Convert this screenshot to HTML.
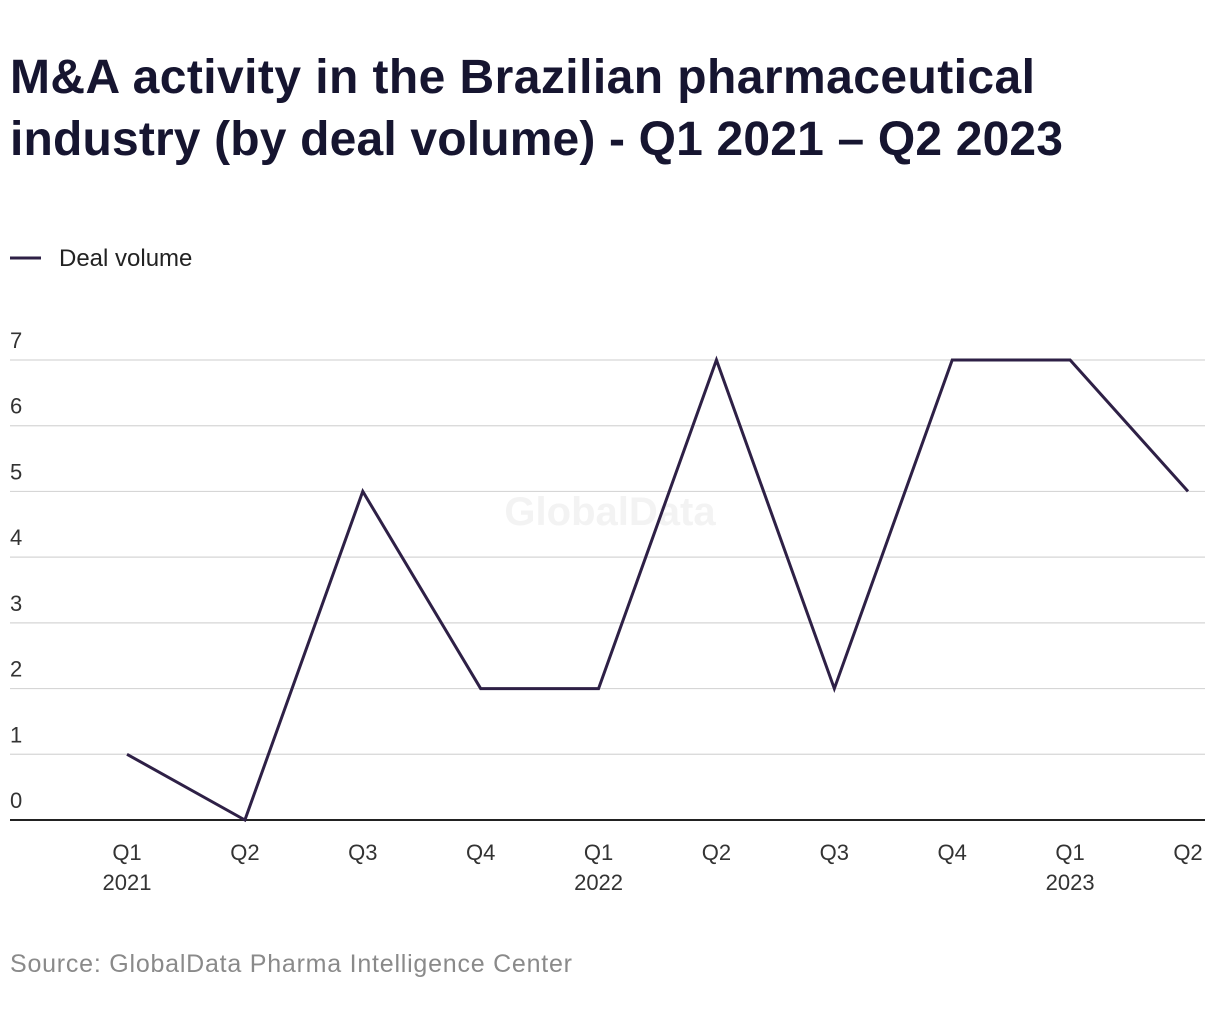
<!DOCTYPE html>
<html><head><meta charset="utf-8"><style>
body{margin:0;background:#fff;width:1220px;height:1020px;overflow:hidden;font-family:"Liberation Sans",sans-serif;}
</style></head><body>
<svg width="1220" height="1020" xmlns="http://www.w3.org/2000/svg">
<text x="10" y="93" font-size="48" font-weight="bold" fill="#161530" textLength="1025">M&amp;A activity in the Brazilian pharmaceutical</text>
<text x="10" y="155" font-size="48" font-weight="bold" fill="#161530" textLength="1053">industry (by deal volume) - Q1 2021 – Q2 2023</text>
<line x1="10" y1="258" x2="41" y2="258" stroke="#2e2046" stroke-width="3"/>
<text x="59" y="266" font-size="24" fill="#222">Deal volume</text>
<text x="610" y="525" font-size="40" font-weight="bold" fill="#f3f3f3" text-anchor="middle">GlobalData</text>
<g id="grid"></g><g id="xl"></g>
<path id="line" fill="none" stroke="#2e2046" stroke-width="3" stroke-linejoin="miter"/>
<text x="10" y="972" font-size="25" fill="#8a8a8a" textLength="562">Source: GlobalData Pharma Intelligence Center</text>
</svg>
<script>
const categories=["Q1","Q2","Q3","Q4","Q1","Q2","Q3","Q4","Q1","Q2"];
const years=["2021","","","","2022","","","","2023",""];
const values=[1,0,5,2,2,7,2,7,7,5];
const yTicks=[0,1,2,3,4,5,6,7];
const NS="http://www.w3.org/2000/svg";
const x=i=>127+i*(1188-127)/9;
const y=v=>820-v*(460/7);
const g=document.getElementById('grid');
yTicks.forEach(t=>{
 const l=document.createElementNS(NS,'line');
 l.setAttribute('x1',10);l.setAttribute('x2',1205);l.setAttribute('y1',y(t));l.setAttribute('y2',y(t));
 l.setAttribute('stroke',t===0?'#222':'#d6d6d6');l.setAttribute('stroke-width',t===0?2:1.2);
 
 
 g.appendChild(l);
 const tx=document.createElementNS(NS,'text');
 tx.setAttribute('x',10);tx.setAttribute('y',y(t)-12);tx.setAttribute('font-size',22);tx.setAttribute('fill','#333');
 tx.textContent=t;
 
 
 g.appendChild(tx);
});
const xl=document.getElementById('xl');
categories.forEach((c,i)=>{
 const t=document.createElementNS(NS,'text');
 t.setAttribute('x',x(i));t.setAttribute('y',860);t.setAttribute('font-size',22);t.setAttribute('fill','#333');t.setAttribute('text-anchor','middle');
 t.textContent=c;
 
 
 xl.appendChild(t);
 if(years[i]){
  const yv=document.createElementNS(NS,'text');
  yv.setAttribute('x',x(i));yv.setAttribute('y',890);yv.setAttribute('font-size',22);yv.setAttribute('fill','#333');yv.setAttribute('text-anchor','middle');
  yv.textContent=years[i];
  
  
  xl.appendChild(yv);
 }
});
document.getElementById('line').setAttribute('d',values.map((v,i)=>(i?'L':'M')+x(i)+','+y(v)).join(''));
</script>
</body></html>
